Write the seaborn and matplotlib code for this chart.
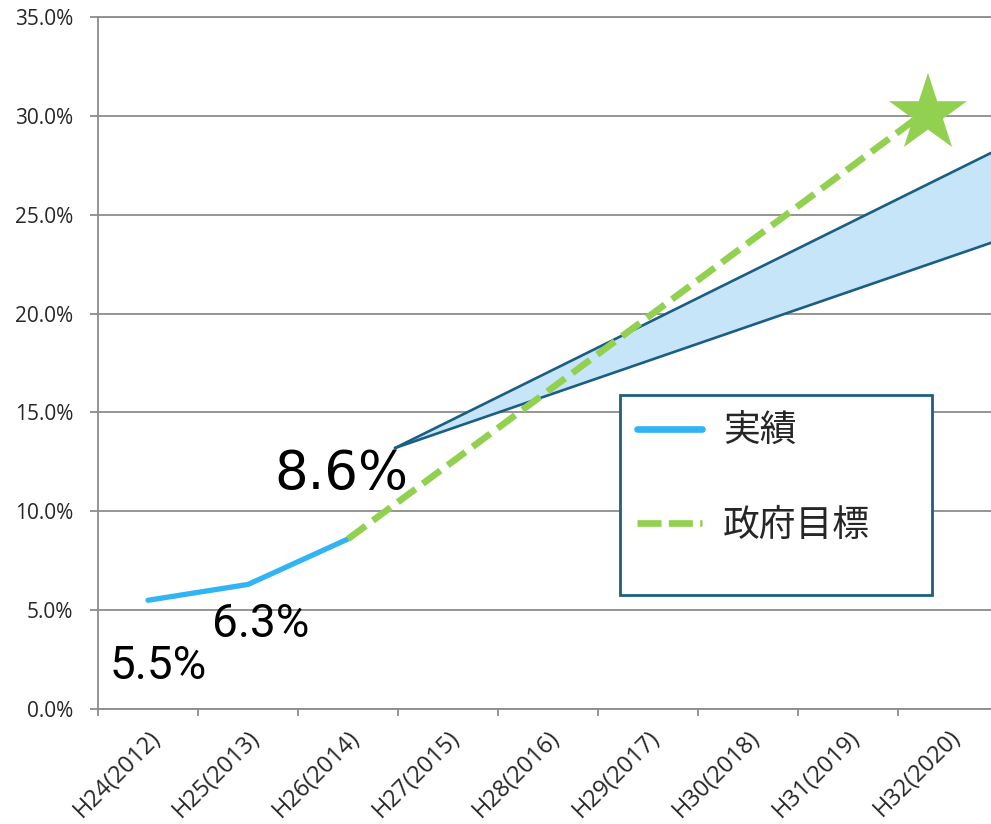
import numpy as np
import pandas as pd
import matplotlib
matplotlib.use("Agg")
import matplotlib.pyplot as plt
import seaborn as sns
from matplotlib.patches import Rectangle
from matplotlib.lines import Line2D

# ---------------- data ----------------
categories = ["H24(2012)", "H25(2013)", "H26(2014)", "H27(2015)", "H28(2016)",
              "H29(2017)", "H30(2018)", "H31(2019)", "H32(2020)"]
actual_x = [0, 1, 2]
actual_values = [5.5, 6.3, 8.6]
actual_labels = ["5.5%", "6.3%", "8.6%"]
target_x = [2.0, 7.8]
target_values = [8.6, 30.3]
star_x = [7.8]
star_values = [30.1]
band_x = [2.47, 8.5]
band_upper = [13.2, 28.3]
band_lower = [13.2, 23.7]
y_ticks = [0, 5, 10, 15, 20, 25, 30, 35]
legend_labels = ["実績", "政府目標"]

# ---------------- style ----------------
sns.set_theme(style="white")
plt.rcParams['font.family'] = ['Open Sans', 'Noto Sans CJK JP', 'DejaVu Sans']

BLUE = "#31b4f3"
GREEN = "#92d050"
BAND_FILL = "#c6e5f9"
BAND_EDGE = "#1b5e83"
GRID = "#8c8c8c"

fig = plt.figure(figsize=(9.91, 8.24), dpi=100)
ax = fig.add_axes([98 / 991, 1 - 709 / 824, 893 / 991, 692 / 824])

# band
ax.fill_between(band_x, band_lower, band_upper, color=BAND_FILL, lw=0, zorder=2)
band_df = pd.DataFrame({"x": band_x, "upper": band_upper, "lower": band_lower})
sns.lineplot(data=band_df, x="x", y="upper", ax=ax, color=BAND_EDGE, lw=1.9, zorder=3)
sns.lineplot(data=band_df, x="x", y="lower", ax=ax, color=BAND_EDGE, lw=1.9, zorder=3)

# actual
act_df = pd.DataFrame({"x": actual_x, "v": actual_values})
sns.lineplot(data=act_df, x="x", y="v", ax=ax, color=BLUE, lw=3.8, zorder=4)

# target
tgt_df = pd.DataFrame({"x": target_x, "v": target_values})
sns.lineplot(data=tgt_df, x="x", y="v", ax=ax, color=GREEN, lw=4.8,
             dashes=False, zorder=4)
ax.lines[-1].set_dashes((3.3, 1.35))
ax.lines[-1].set_dash_capstyle("butt")

# star
star_df = pd.DataFrame({"x": star_x, "v": star_values})
sns.scatterplot(data=star_df, x="x", y="v", ax=ax, marker="*", s=59 ** 2,
                color=GREEN, edgecolor="none", linewidth=0, zorder=5)

# annotations
ax.text(actual_x[0] + 0.1, 2.15, actual_labels[0], fontsize=33, family="Roboto",
        ha="center", va="center", color="black", zorder=6)
ax.text(actual_x[1] + 0.13, 4.3, actual_labels[1], fontsize=33, family="Roboto",
        ha="center", va="center", color="black", zorder=6)
ax.text(actual_x[2] - 0.07, 11.9, actual_labels[2], fontsize=38, family="DejaVu Sans",
        ha="center", va="center", color="black", zorder=6)

# axes
ax.set_xlabel("")
ax.set_ylabel("")
ax.set_yticks(y_ticks)
ax.set_yticklabels([f"{v:.1f}%" for v in y_ticks], fontsize=15)
ax.set_xticks(range(len(categories)))
ax.set_xticklabels(categories, fontsize=17, rotation=45, ha="right",
                   rotation_mode="anchor")
ax.set_xticks(np.arange(-0.5, len(categories), 1), minor=True)
ax.tick_params(axis="x", which="major", length=0, pad=12)
ax.tick_params(axis="x", which="minor", length=5, width=1.3, color=GRID, bottom=True)
ax.tick_params(axis="y", which="major", length=5.8, width=1.3, color=GRID, pad=12, left=True)
ax.grid(axis="y", color=GRID, lw=1.3)
ax.grid(axis="x", visible=False)
ax.set_axisbelow(True)
for s in ["top", "right"]:
    ax.spines[s].set_visible(False)
for s in ["left", "bottom"]:
    ax.spines[s].set_color(GRID)
    ax.spines[s].set_linewidth(1.3)
ax.axhline(35, color=GRID, lw=1.3, clip_on=False, zorder=0)

# legend box
x0 = (620 - 98) / 893
y0 = (709 - 595) / 692
w = (932 - 620) / 893
h = (595 - 395) / 692
ax.add_patch(Rectangle((x0, y0), w, h, transform=ax.transAxes, facecolor="white",
                       edgecolor="#1f5f80", lw=2.0, zorder=7, clip_on=False))
handles = [Line2D([], [], color=BLUE, lw=4.8),
           Line2D([], [], color=GREEN, lw=4.8, dashes=(3.6, 1.1), dash_capstyle="butt")]
leg = ax.legend(handles, legend_labels, loc="upper left",
                bbox_to_anchor=((637 - 98) / 893, (709 - 412) / 692),
                frameon=False, fontsize=26.5, borderpad=0, borderaxespad=0,
                handlelength=1.77, handletextpad=0.57, labelspacing=1.49)
leg.set_zorder(8)
for t in leg.get_texts():
    t.set_family(["Noto Sans CJK JP", "DejaVu Sans"])

ax.set_xlim(-0.5, 8.43)
ax.set_ylim(0, 35)

fig.savefig("out.png", dpi=100)
